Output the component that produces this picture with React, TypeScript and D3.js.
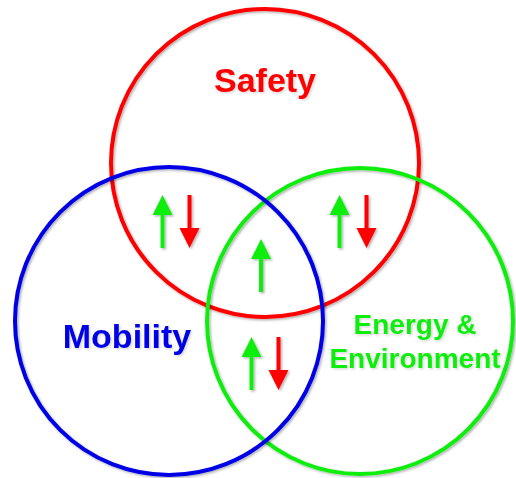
import React, { useEffect, useRef } from 'react';
import * as d3 from 'd3';

// the three sets
const setNames = ['Safety', 'Mobility', 'Energy & Environment'];
const setColors = ['#ff0000', '#0000e6', '#11ee11'];

// arrows shown in each overlap region (up = improves, down = worsens)
const regionNames = ['Safety+Mobility', 'Safety+Energy', 'All', 'Mobility+Energy'];
const regionArrows = [['up', 'down'], ['up', 'down'], ['up'], ['up', 'down']];

const width = 516;
const height = 478;

// layout (pixels)
const circleLayout = [
  { cx: 265, cy: 163, r: 154 },
  { cx: 169, cy: 321, r: 154 },
  { cx: 360, cy: 321, r: 153 },
];
const labelLayout = [
  { x: 265, y: 92, size: 34, lines: ['Safety'] },
  { x: 127, y: 348, size: 34, lines: ['Mobility'] },
  { x: 415, y: 334, size: 28, lines: ['Energy &', 'Environment'] },
];
const regionLayout = [
  { x: 176, top: 195 },
  { x: 353, top: 195 },
  { x: 261, top: 239 },
  { x: 265, top: 337 },
];

const App = () => {
  const ref = useRef<SVGSVGElement>(null);

  useEffect(() => {
    const svg = d3.select(ref.current);
    svg.selectAll('*').remove();

    const defs = svg.append('defs');
    const addShadow = (id: string, opacity: number) => {
      const f = defs
        .append('filter')
        .attr('id', id)
        .attr('x', '-20%')
        .attr('y', '-20%')
        .attr('width', '140%')
        .attr('height', '140%');
      f.append('feDropShadow')
        .attr('dx', 1.5)
        .attr('dy', 1.5)
        .attr('stdDeviation', 1)
        .attr('flood-color', '#000')
        .attr('flood-opacity', opacity);
    };
    addShadow('shadow', 0.3);
    addShadow('textShadow', 0.15);

    const order = [0, 2, 1];
    svg
      .selectAll('circle.set')
      .data(order)
      .enter()
      .append('circle')
      .attr('class', 'set')
      .attr('cx', (i) => circleLayout[i].cx)
      .attr('cy', (i) => circleLayout[i].cy)
      .attr('r', (i) => circleLayout[i].r)
      .attr('fill', 'none')
      .attr('stroke', (i) => setColors[i])
      .attr('stroke-width', 4)
      .attr('filter', 'url(#shadow)');

    // set labels
    setNames.forEach((name, i) => {
      const l = labelLayout[i];
      const t = svg
        .append('text')
        .attr('x', l.x)
        .attr('y', l.y)
        .attr('text-anchor', 'middle')
        .attr('fill', setColors[i])
        .attr('font-family', 'Liberation Sans, Arial, sans-serif')
        .attr('font-weight', 'bold')
        .attr('font-size', l.size)
        .attr('filter', 'url(#textShadow)');
      l.lines.forEach((line, j) => {
        t.append('tspan')
          .attr('x', l.x)
          .attr('dy', j === 0 ? 0 : l.size * 1.22)
          .text(line);
      });
    });

    // arrows
    const arrowLen = 53;
    const headLen = 20;
    const headW = 20;
    const gap = 27;
    const line = d3.line();
    regionNames.forEach((name, ri) => {
      const arrows = regionArrows[ri];
      const pos = regionLayout[ri];
      const g = svg.append('g').attr('class', name).attr('filter', 'url(#shadow)');
      arrows.forEach((dir, k) => {
        const x = pos.x + (k - (arrows.length - 1) / 2) * gap;
        const top = pos.top;
        const bottom = top + arrowLen;
        const color = dir === 'up' ? '#11ee11' : '#ff0000';
        const tip = dir === 'up' ? top : bottom;
        const base = dir === 'up' ? top + headLen : bottom - headLen;
        const tail = dir === 'up' ? bottom : top;
        g.append('path')
          .attr('d', line([[x, tail], [x, base]]))
          .attr('stroke', color)
          .attr('stroke-width', 4);
        g.append('path')
          .attr('d', line([[x, tip], [x - headW / 2, base], [x + headW / 2, base]]) + 'Z')
          .attr('fill', color);
      });
    });
  }, []);

  return (
    <svg
      ref={ref}
      width={width}
      height={height}
      style={{ position: 'absolute', left: 0, top: 0, background: '#fff' }}
    />
  );
};

export default App;
